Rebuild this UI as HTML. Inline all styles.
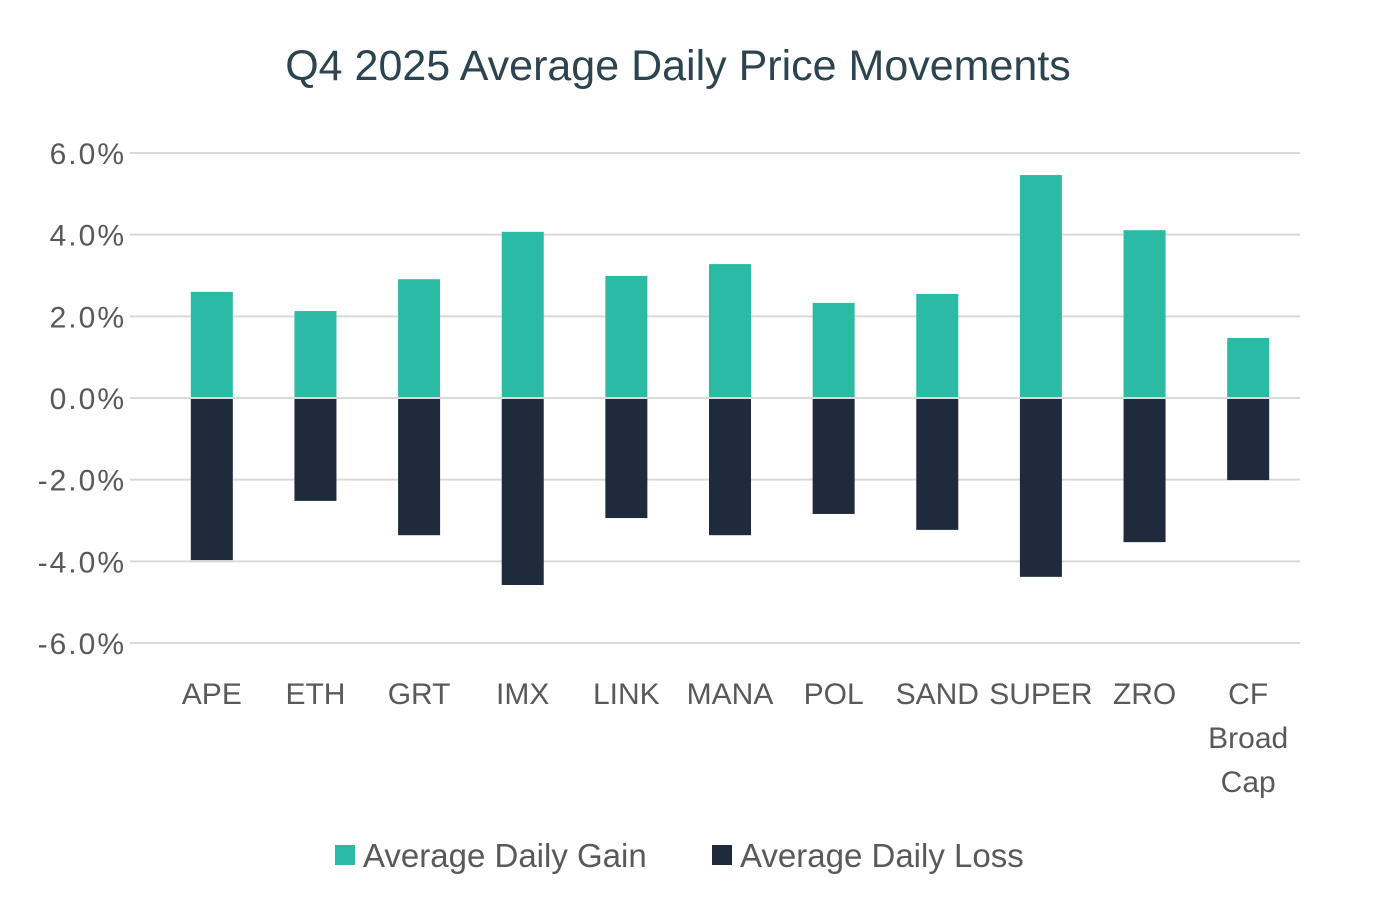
<!DOCTYPE html>
<html><head><meta charset="utf-8"><style>
body{margin:0;background:#fff;font-family:"Liberation Sans",sans-serif}
</style></head><body>
<svg width="1384" height="912" id="c" style="display:block">
<text x="678" y="80" text-anchor="middle" font-size="43" fill="#2c4450">Q4 2025 Average Daily Price Movements</text>
</svg>
<script>
const categories=["APE","ETH","GRT","IMX","LINK","MANA","POL","SAND","SUPER","ZRO","CF Broad Cap"];
const gains=[2.6,2.13,2.91,4.07,2.99,3.28,2.33,2.55,5.46,4.11,1.47];
const losses=[-3.97,-2.52,-3.36,-4.58,-2.94,-3.36,-2.84,-3.23,-4.38,-3.53,-2.01];
const ticks=[6,4,2,0,-2,-4,-6];
const svg=document.getElementById('c');const NS='http://www.w3.org/2000/svg';
const y=v=>398-v*40.83;
const x0=160,bw=(1300-160)/categories.length;
const xc=i=>x0+bw*(i+0.5);
function mk(t,a,txt){const e=document.createElementNS(NS,t);for(const k in a)e.setAttribute(k,a[k]);if(txt!=null)e.textContent=txt;svg.appendChild(e);return e;}
ticks.forEach(t=>{
 const g=mk('line',{x1:130,x2:1300,y1:y(t),y2:y(t),stroke:'#d9d9d9','stroke-width':2});
 
 
 const l=mk('text',{x:126,y:y(t)+11,'text-anchor':'end','font-size':30,'letter-spacing':2,fill:'#595959'},t.toFixed(1)+'%');
 
 
});
categories.forEach((c,i)=>{
 const g=mk('rect',{x:xc(i)-21,y:y(gains[i]),width:42,height:y(0)-y(gains[i]),fill:'#2bbba5'});
 
 
 const l=mk('rect',{x:xc(i)-21,y:y(0),width:42,height:y(losses[i])-y(0),fill:'#1f2a3c'});
 
 
 const words=c==="CF Broad Cap"?["CF","Broad","Cap"]:[c];
 words.forEach((w,j)=>{
  const t=mk('text',{x:xc(i),y:704+j*44,'text-anchor':'middle','font-size':30,fill:'#595959'},w);
  
  
 });
});
const z=mk('line',{x1:130,x2:1300,y1:y(0),y2:y(0),stroke:'#d9d9d9','stroke-width':2});


[["Average Daily Gain","#2bbba5",335],["Average Daily Loss","#1f2a3c",712]].forEach(([n,col,x])=>{
 const s=mk('rect',{x:x,y:845,width:20,height:20,fill:col});
 
 
 const t=mk('text',{x:x+28,y:867,'font-size':33,fill:'#595959'},n);
 
 
});
</script>
</body></html>
